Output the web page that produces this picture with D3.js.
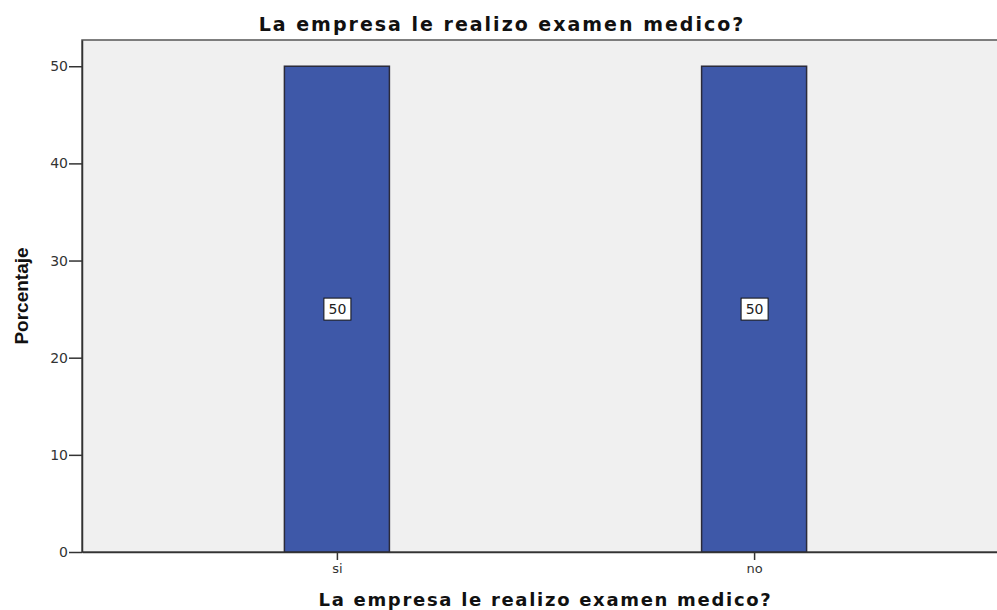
<!DOCTYPE html>
<html>
<head>
<meta charset="utf-8">
<script src="https://cdn.jsdelivr.net/npm/d3@7"></script>
<style>
  body { margin: 0; background: #fff; }
  svg { display: block; }
</style>
</head>
<body>
<script>
// chart data
var categories = ["si", "no"];
var percents = [50, 50];
var yTicks = [0, 10, 20, 30, 40, 50];
var titleText = "La empresa le realizo examen medico?";
var xLabel = "La empresa le realizo examen medico?";
var yLabel = "Porcentaje";

var W = 997, H = 610;
var margin = {top: 40, right: -12, bottom: 58, left: 82};
var width = W - margin.left - margin.right,
    height = H - margin.top - margin.bottom;

var svg = d3.select("body").append("svg")
    .attr("width", W)
    .attr("height", H);

var g = svg.append("g")
    .attr("transform", "translate(" + margin.left + "," + margin.top + ")");

var xScale = d3.scalePoint()
    .domain(categories)
    .range([0, width])
    .padding(0.611);

var yScale = d3.scaleLinear()
    .domain([0, 52.7])
    .range([height, 0]);

// plot background
g.append("rect")
    .attr("x", 0).attr("y", 0)
    .attr("width", width).attr("height", height)
    .attr("fill", "#f0f0f0")
    .attr("stroke", "#555")
    .attr("stroke-width", 1.5);

var barW = 105;

g.selectAll(".bar")
    .data(categories)
    .enter().append("rect")
    .attr("class", "bar")
    .attr("x", function(d) { return xScale(d) - barW / 2; })
    .attr("y", function(d, i) { return yScale(percents[i]); })
    .attr("width", barW)
    .attr("height", function(d, i) { return height - yScale(percents[i]); })
    .attr("fill", "#3e58a8")
    .attr("stroke", "#2b2b3a")
    .attr("stroke-width", 1.5);

// value labels in boxes
var lab = g.selectAll(".vlab")
    .data(categories)
    .enter().append("g")
    .attr("class", "vlab")
    .attr("transform", function(d, i) {
        return "translate(" + xScale(d) + "," + yScale(percents[i] / 2) + ")";
    });
lab.append("rect")
    .attr("x", -13).attr("y", -11)
    .attr("width", 27).attr("height", 22)
    .attr("fill", "#fff")
    .attr("stroke", "#111")
    .attr("stroke-width", 1);
lab.append("text")
    .attr("text-anchor", "middle")
    .attr("dy", "0.36em")
    .attr("x", 0.5)
    .style("font-family", "DejaVu Sans, Verdana, sans-serif")
    .style("font-size", "14px")
    .attr("fill", "#222")
    .text(function(d, i) { return percents[i]; });

// y axis
var yAxis = g.append("g")
    .call(d3.axisLeft(yScale).tickValues(yTicks).tickSize(13).tickSizeOuter(0).tickPadding(1));
yAxis.select(".domain").attr("stroke", "#333").attr("stroke-width", 1.5);
yAxis.selectAll(".tick line").attr("stroke", "#333").attr("stroke-width", 1.5);
yAxis.selectAll(".tick text")
    .style("font-family", "DejaVu Sans, Verdana, sans-serif")
    .style("font-size", "14px")
    .attr("fill", "#333");

// x axis
var xAxis = g.append("g")
    .attr("transform", "translate(0," + height + ")")
    .call(d3.axisBottom(xScale).tickSize(8).tickSizeOuter(0).tickPadding(4));
xAxis.select(".domain").attr("stroke", "#333").attr("stroke-width", 1.5);
xAxis.selectAll(".tick line").attr("stroke", "#333").attr("stroke-width", 1.5);
xAxis.selectAll(".tick text")
    .style("font-family", "DejaVu Sans, Verdana, sans-serif")
    .style("font-size", "13px")
    .attr("fill", "#333");

// title
svg.append("text")
    .attr("x", 502)
    .attr("y", 31)
    .attr("text-anchor", "middle")
    .style("font-family", "DejaVu Sans, Verdana, sans-serif")
    .style("font-weight", "bold")
    .style("font-size", "19px")
    .style("letter-spacing", "2px")
    .attr("fill", "#111")
    .text(titleText);

// x label
svg.append("text")
    .attr("x", margin.left + width / 2)
    .attr("y", 606)
    .attr("text-anchor", "middle")
    .style("font-family", "DejaVu Sans, Verdana, sans-serif")
    .style("font-weight", "bold")
    .style("font-size", "18px")
    .style("letter-spacing", "1.7px")
    .attr("fill", "#111")
    .text(xLabel);

// y label
svg.append("text")
    .attr("transform", "translate(28,296) rotate(-90)")
    .attr("text-anchor", "middle")
    .style("font-family", "'Liberation Sans Narrow', 'Arial Narrow', sans-serif")
    .style("font-stretch", "condensed")
    .style("font-weight", "bold")
    .style("font-size", "19px")
    .attr("fill", "#111")
    .text(yLabel);
</script>
</body>
</html>
